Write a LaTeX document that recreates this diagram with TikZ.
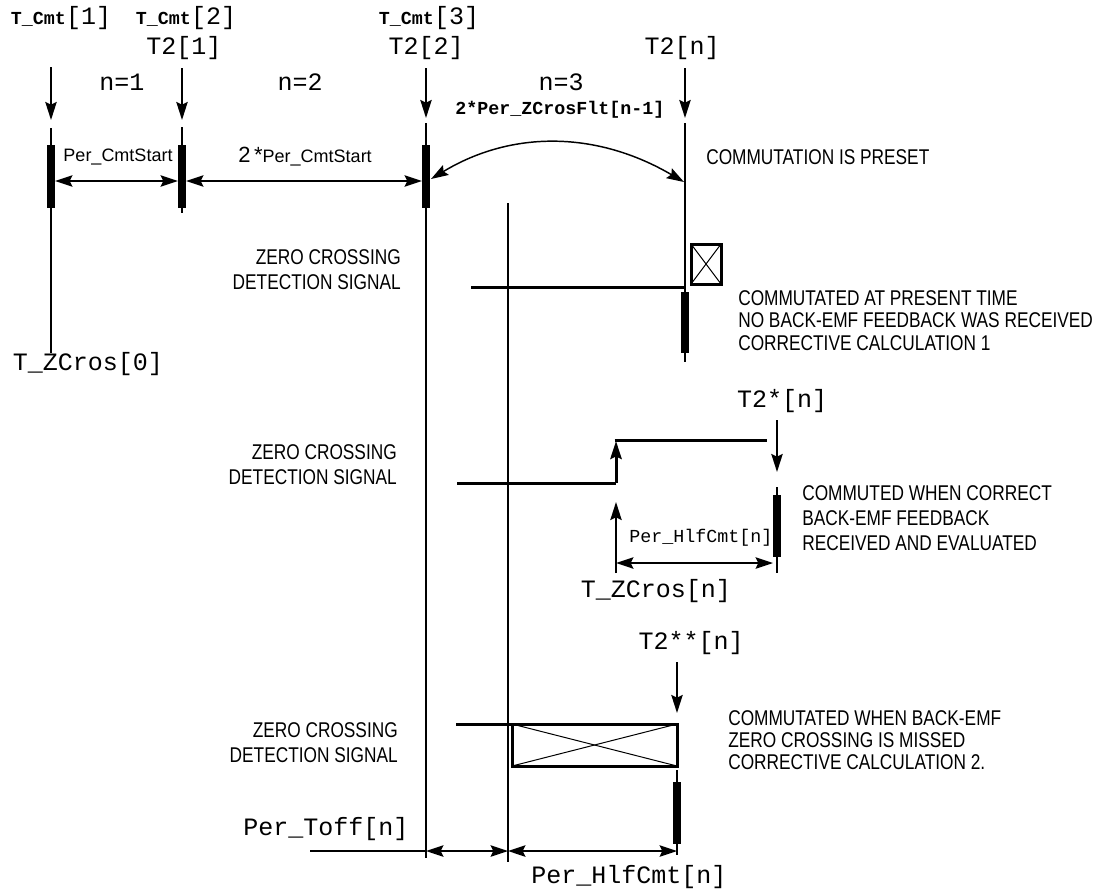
\documentclass[tikz,border=0pt]{standalone}
\usepackage{fontspec}
\setmainfont{Liberation Sans}
\newfontfamily\monof{Liberation Mono}
\newfontfamily\narrowf[FakeStretch=0.81]{Liberation Sans}
\usetikzlibrary{arrows.meta}
\newcommand\BigMono{\monof\fontsize{18.75}{20}\selectfont}
\newcommand\SmallMono{\monof\fontsize{13.75}{15}\selectfont}
\newcommand\SmallBold{\monof\bfseries\fontsize{13.75}{15}\selectfont}
\tikzset{
  ln/.style={line width=1.5pt},
  sig/.style={line width=2.25pt},
  thinx/.style={line width=0.75pt},
  tip/.style={-{Stealth[length=13.5pt,width=8.5pt,inset=2pt]}},
  dtip/.style={{Stealth[length=13pt,width=8.5pt,inset=2pt]}-{Stealth[length=13pt,width=8.5pt,inset=2pt]}},
  bar/.style={fill=black, inner sep=0pt, outer sep=0pt, minimum width=6pt, minimum height=47.25pt},
  xbox/.style={draw, line width=2.25pt, inner sep=0pt, outer sep=0pt},
  bigmono/.style={font=\BigMono, inner sep=0pt},
  smallmono/.style={font=\SmallMono, inner sep=0pt},
  smallbold/.style={font=\SmallBold, inner sep=0pt},
  note/.style={font=\narrowf\fontsize{16}{16.9}\selectfont, inner sep=0pt, align=left},
  notewide/.style={font=\narrowf\fontsize{16}{18.75}\selectfont, inner sep=0pt, align=left},
  zcd/.style={font=\narrowf\fontsize{16}{18.75}\selectfont, inner sep=0pt, align=right, anchor=north east},
  dimlbl/.style={font=\fontsize{13.5}{15}\selectfont, inner sep=0pt}
}
\begin{document}
\begin{tikzpicture}[x=0.75pt,y=-0.75pt]
\useasboundingbox (0,0) rectangle (1105,890);

% ---- coordinates of the time lines
\coordinate (L1t) at (51,128);  \coordinate (L1b) at (51,353);
\coordinate (L2t) at (182,127); \coordinate (L2b) at (182,213);
\coordinate (L3t) at (426,123); \coordinate (L3b) at (426,858);
\coordinate (Lnt) at (685,123); \coordinate (Lnb) at (685,362);
\coordinate (Lmt) at (508,203); \coordinate (Lmb) at (508,862);
\coordinate (Lst) at (777,487); \coordinate (Lsb) at (777,573);
\coordinate (Lqt) at (677,770); \coordinate (Lqb) at (677,855);

\draw[ln] (L1t) -- (L1b);
\draw[ln] (L2t) -- (L2b);
\draw[ln] (L3t) -- (L3b);
\draw[ln] (Lnt) -- (Lnb);
\draw[ln] (Lmt) -- (Lmb);
\draw[ln] (Lst) -- (Lsb);
\draw[ln] (Lqt) -- (Lqb);

% ---- commutation bars
\node[bar] (b1) at (51,176.5) {};
\node[bar] (b2) at (182,176.5) {};
\node[bar] (b3) at (426,176.5) {};
\node[bar, minimum height=45.75pt] (bn) at (685,322.5) {};
\node[bar, minimum height=46.5pt] (bs) at (777,526) {};
\node[bar, minimum height=46.5pt] (bq) at (677,813) {};

% ---- downward event arrows
\coordinate (d1s) at (51,67);   \coordinate (d1e) at (51,120);
\coordinate (d2s) at (182,68);  \coordinate (d2e) at (182,120);
\coordinate (d3s) at (426,68);  \coordinate (d3e) at (426,118);
\coordinate (dns) at (685,68);  \coordinate (dne) at (685,118);
\coordinate (dss) at (777,420); \coordinate (dse) at (777,472);
\coordinate (dqs) at (677,662); \coordinate (dqe) at (677,713);
\draw[ln,tip] (d1s) -- (d1e);
\draw[ln,tip] (d2s) -- (d2e);
\draw[ln,tip] (d3s) -- (d3e);
\draw[ln,tip] (dns) -- (dne);
\draw[ln,tip] (dss) -- (dse);
\draw[ln,tip] (dqs) -- (dqe);

% ---- top dimension arrows
\coordinate (h1) at (0,181);
\draw[ln,dtip] (b1.east |- h1) -- (b2.west |- h1);
\draw[ln,dtip] (b2.east |- h1) -- (b3.west |- h1);

% ---- arc 2*Per_ZCrosFlt[n-1]
\coordinate (arcA) at (431,179);
\coordinate (arcB) at (684,182);
\draw[line width=1.1pt,dtip] (arcA) .. controls (512,130) and (597,131) .. (arcB);

% ---- signal 1 with crossed box
\coordinate (s1a) at (471,287); \coordinate (s1b) at (685,287);
\draw[sig] (s1a) -- (s1b);
\node[xbox, minimum width=22.5pt, minimum height=30pt] (x1) at (706,264) {};
\draw[thinx] (x1.north west) -- (x1.south east);
\draw[thinx] (x1.south west) -- (x1.north east);

% ---- signal 2
\coordinate (s2a) at (457,483); \coordinate (s2b) at (616,483);
\coordinate (s2c) at (616,441); \coordinate (s2d) at (614.5,440);
\coordinate (s2e) at (767,440);
\draw[sig] (s2a) -- (s2b);
\draw[sig,tip] (s2b) -- (s2c);
\draw[sig] (s2d) -- (s2e);
\coordinate (u1s) at (616,573); \coordinate (u1e) at (616,502);
\draw[ln,tip] (u1s) -- (u1e);
\coordinate (h2) at (0,563);
\draw[ln,dtip] (u1s |- h2) -- (bs.west |- h2);

% ---- signal 3 with crossed box
\coordinate (s3a) at (456,724);
\node[xbox, minimum width=123.75pt, minimum height=31.5pt] (x3) at (594.5,745) {};
\draw[sig] (s3a) -- (x3.north west);
\draw[thinx] (x3.north west) -- (x3.south east);
\draw[thinx] (x3.south west) -- (x3.north east);

% ---- bottom dimension arrows
\coordinate (h3) at (0,851);
\coordinate (bl) at (310,851);
\draw[ln] (bl) -- (L3b |- h3);
\draw[ln,dtip] (L3b |- h3) -- (Lmb |- h3);
\draw[ln,dtip] (Lmb |- h3) -- (Lqb |- h3);

% ---- labels
\node[inner sep=0pt] (tc1) at (61,18) {{\SmallBold T\_Cmt}{\BigMono[1]}};
\node[inner sep=0pt] (tc2) at (186,18) {{\SmallBold T\_Cmt}{\BigMono[2]}};
\node[inner sep=0pt] (tc3) at (429,18) {{\SmallBold T\_Cmt}{\BigMono[3]}};
\node[bigmono] (t21) at (184,48) {T2[1]};
\node[bigmono] (t22) at (426,48) {T2[2]};
\node[bigmono] (t2n) at (682,48) {T2[n]};
\node[bigmono] (n1) at (122,82) {n=1};
\node[bigmono] (n2) at (300,82) {n=2};
\node[bigmono] (n3) at (561,82) {n=3};
\node[smallbold] (zcf) at (560,110) {2*Per\_ZCrosFlt[n-1]};
\node[dimlbl] (pcs) at (118,157) {Per\_CmtStart};
\node[inner sep=0pt] (pcs2) at (305,157) {{\fontsize{16.5}{18}\selectfont 2\,*}{\fontsize{13.5}{15}\selectfont Per\_CmtStart}};
\node[note, anchor=west] (cip) at (706,157) {COMMUTATION IS PRESET};

\node[bigmono] (tz0) at (88,364) {T\_ZCros[0]};
\node[zcd] (zcd1) at (401,249) {ZERO CROSSING\\DETECTION SIGNAL};
\node[note, anchor=north west] (c1) at (738,290) {COMMUTATED AT PRESENT TIME\\NO BACK-EMF FEEDBACK WAS RECEIVED\\CORRECTIVE CALCULATION 1};

\node[bigmono] (t2s) at (782,401) {T2*[n]};
\node[zcd] (zcd2) at (397,444) {ZERO CROSSING\\DETECTION SIGNAL};
\node[smallmono] (phc1) at (701,538) {Per\_HlfCmt[n]};
\node[bigmono] (tzn) at (656,591) {T\_ZCros[n]};
\node[notewide, anchor=north west] (c2) at (802,485) {COMMUTED WHEN CORRECT\\BACK-EMF FEEDBACK\\RECEIVED AND EVALUATED};

\node[bigmono] (t2ss) at (691,643) {T2**[n]};
\node[zcd] (zcd3) at (398,722) {ZERO CROSSING\\DETECTION SIGNAL};
\node[note, anchor=north west, font=\narrowf\fontsize{16}{16.5}\selectfont] (c3) at (728,710) {COMMUTATED WHEN BACK-EMF\\ZERO CROSSING IS MISSED\\CORRECTIVE CALCULATION 2.};
\node[bigmono] (pto) at (326,829) {Per\_Toff[n]};
\node[bigmono] (phc2) at (629,877) {Per\_HlfCmt[n]};
\end{tikzpicture}
\end{document}
